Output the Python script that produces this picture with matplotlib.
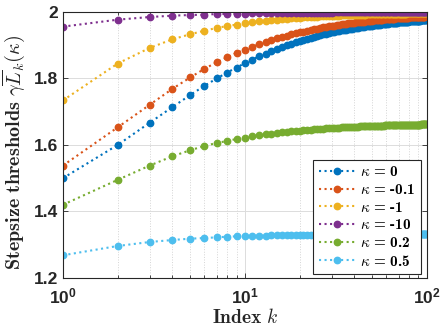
import matplotlib
matplotlib.use('Agg')
import matplotlib.pyplot as plt
from matplotlib.font_manager import FontProperties
from matplotlib.ticker import LogLocator, NullFormatter

# Data: stepsize thresholds per index k for each kappa
k = list(range(1, 101))
kappas = ['0', '-0.1', '-1', '-10', '0.2', '0.5']

thr_k0 = [
    1.500, 1.600, 1.667, 1.714, 1.750, 1.778, 1.800, 1.818, 1.833, 1.846,
    1.857, 1.867, 1.875, 1.882, 1.889, 1.895, 1.900, 1.905, 1.909, 1.913,
    1.917, 1.920, 1.923, 1.926, 1.929, 1.931, 1.933, 1.935, 1.937, 1.939,
    1.940, 1.942, 1.943, 1.945, 1.946, 1.947, 1.948, 1.949, 1.950, 1.951,
    1.952, 1.953, 1.954, 1.955, 1.956, 1.957, 1.957, 1.958, 1.959, 1.959,
    1.960, 1.961, 1.961, 1.962, 1.962, 1.963, 1.963, 1.964, 1.964, 1.965,
    1.965, 1.966, 1.966, 1.967, 1.967, 1.967, 1.968, 1.968, 1.968, 1.969,
    1.969, 1.969, 1.970, 1.970, 1.970, 1.971, 1.971, 1.971, 1.971, 1.972,
    1.972, 1.972, 1.972, 1.973, 1.973, 1.973, 1.973, 1.974, 1.974, 1.974,
    1.974, 1.974, 1.975, 1.975, 1.975, 1.975, 1.975, 1.976, 1.976, 1.976]

thr_km01 = [
    1.538, 1.653, 1.721, 1.769, 1.803, 1.829, 1.849, 1.864, 1.877, 1.887,
    1.896, 1.903, 1.910, 1.916, 1.921, 1.925, 1.929, 1.933, 1.936, 1.939,
    1.941, 1.944, 1.946, 1.948, 1.950, 1.952, 1.954, 1.955, 1.957, 1.958,
    1.959, 1.960, 1.962, 1.963, 1.964, 1.965, 1.966, 1.966, 1.967, 1.968,
    1.969, 1.969, 1.970, 1.971, 1.971, 1.972, 1.973, 1.973, 1.974, 1.974,
    1.975, 1.975, 1.976, 1.976, 1.976, 1.977, 1.977, 1.978, 1.978, 1.978,
    1.979, 1.979, 1.979, 1.980, 1.980, 1.980, 1.981, 1.981, 1.981, 1.981,
    1.982, 1.982, 1.982, 1.982, 1.983, 1.983, 1.983, 1.983, 1.983, 1.984,
    1.984, 1.984, 1.984, 1.984, 1.985, 1.985, 1.985, 1.985, 1.985, 1.985,
    1.986, 1.986, 1.986, 1.986, 1.986, 1.986, 1.986, 1.987, 1.987, 1.987]

thr_km1 = [
    1.734, 1.845, 1.892, 1.918, 1.933, 1.944, 1.952, 1.958, 1.962, 1.966,
    1.969, 1.972, 1.974, 1.976, 1.977, 1.979, 1.980, 1.981, 1.982, 1.983,
    1.984, 1.984, 1.985, 1.986, 1.986, 1.987, 1.987, 1.988, 1.988, 1.988,
    1.989, 1.989, 1.989, 1.990, 1.990, 1.990, 1.991, 1.991, 1.991, 1.991,
    1.992, 1.992, 1.992, 1.992, 1.992, 1.992, 1.993, 1.993, 1.993, 1.993,
    1.993, 1.993, 1.993, 1.994, 1.994, 1.994, 1.994, 1.994, 1.994, 1.994,
    1.994, 1.994, 1.994, 1.994, 1.995, 1.995, 1.995, 1.995, 1.995, 1.995,
    1.995, 1.995, 1.995, 1.995, 1.995, 1.995, 1.995, 1.996, 1.996, 1.996,
    1.996, 1.996, 1.996, 1.996, 1.996, 1.996, 1.996, 1.996, 1.996, 1.996,
    1.996, 1.996, 1.996, 1.996, 1.996, 1.996, 1.996, 1.996, 1.996, 1.996]

thr_km10 = [
    1.956, 1.977, 1.985, 1.989, 1.991, 1.992, 1.994, 1.994, 1.995, 1.995,
    1.996, 1.996, 1.997, 1.997, 1.997, 1.997, 1.997, 1.998, 1.998, 1.998,
    1.998, 1.998, 1.998, 1.998, 1.998, 1.998, 1.998, 1.998, 1.998, 1.998,
    1.999, 1.999, 1.999, 1.999, 1.999, 1.999, 1.999, 1.999, 1.999, 1.999,
    1.999, 1.999, 1.999, 1.999, 1.999, 1.999, 1.999, 1.999, 1.999, 1.999,
    1.999, 1.999, 1.999, 1.999, 1.999, 1.999, 1.999, 1.999, 1.999, 1.999,
    1.999, 1.999, 1.999, 1.999, 1.999, 1.999, 1.999, 1.999, 1.999, 1.999,
    1.999, 1.999, 1.999, 1.999, 1.999, 1.999, 1.999, 1.999, 1.999, 1.999,
    1.999, 1.999, 1.999, 1.999, 1.999, 1.999, 1.999, 1.999, 1.999, 1.999,
    2.000, 2.000, 2.000, 2.000, 2.000, 2.000, 2.000, 2.000, 2.000, 2.000]

thr_k02 = [
    1.420, 1.495, 1.538, 1.566, 1.584, 1.597, 1.606, 1.612, 1.618, 1.622,
    1.626, 1.629, 1.632, 1.634, 1.636, 1.638, 1.640, 1.641, 1.642, 1.643,
    1.644, 1.645, 1.646, 1.647, 1.648, 1.649, 1.649, 1.650, 1.650, 1.651,
    1.651, 1.652, 1.652, 1.653, 1.653, 1.653, 1.654, 1.654, 1.654, 1.655,
    1.655, 1.655, 1.656, 1.656, 1.656, 1.656, 1.656, 1.657, 1.657, 1.657,
    1.657, 1.657, 1.658, 1.658, 1.658, 1.658, 1.658, 1.658, 1.659, 1.659,
    1.659, 1.659, 1.659, 1.659, 1.659, 1.659, 1.660, 1.660, 1.660, 1.660,
    1.660, 1.660, 1.660, 1.660, 1.660, 1.660, 1.660, 1.661, 1.661, 1.661,
    1.661, 1.661, 1.661, 1.661, 1.661, 1.661, 1.661, 1.661, 1.661, 1.661,
    1.661, 1.661, 1.662, 1.662, 1.662, 1.662, 1.662, 1.662, 1.662, 1.662]

thr_k05 = [
    1.268, 1.296, 1.308, 1.314, 1.318, 1.320, 1.322, 1.324, 1.325, 1.325,
    1.326, 1.327, 1.327, 1.328, 1.328, 1.328, 1.329, 1.329, 1.329, 1.329,
    1.330, 1.330, 1.330, 1.330, 1.330, 1.330, 1.330, 1.330, 1.331, 1.331,
    1.331, 1.331, 1.331, 1.331, 1.331, 1.331, 1.331, 1.331, 1.331, 1.331,
    1.331, 1.331, 1.331, 1.331, 1.332, 1.332, 1.332, 1.332, 1.332, 1.332,
    1.332, 1.332, 1.332, 1.332, 1.332, 1.332, 1.332, 1.332, 1.332, 1.332,
    1.332, 1.332, 1.332, 1.332, 1.332, 1.332, 1.332, 1.332, 1.332, 1.332,
    1.332, 1.332, 1.332, 1.332, 1.332, 1.332, 1.332, 1.332, 1.332, 1.332,
    1.332, 1.332, 1.332, 1.332, 1.332, 1.332, 1.332, 1.332, 1.332, 1.332,
    1.332, 1.332, 1.332, 1.332, 1.332, 1.332, 1.332, 1.332, 1.332, 1.332]

series = [thr_k0, thr_km01, thr_km1, thr_km10, thr_k02, thr_k05]
colors = ['#0072BD', '#D95319', '#EDB120', '#7E2F8E', '#77AC30', '#4DBEEE']

yticks = [1.2, 1.4, 1.6, 1.8, 2.0]
ytick_labels = ['1.2', '1.4', '1.6', '1.8', '2']
xticks = [1, 10, 100]
xtick_labels = [r'$\mathbf{10^{0}}$', r'$\mathbf{10^{1}}$', r'$\mathbf{10^{2}}$']

# Fonts: sans bold for ticks, computer modern for labels/legend
plt.rcParams['mathtext.fontset'] = 'custom'
plt.rcParams['mathtext.bf'] = 'Liberation Sans:bold'
plt.rcParams['mathtext.rm'] = 'Liberation Sans'
plt.rcParams['font.family'] = 'Liberation Sans'
dark = '#262626'

fig = plt.figure(figsize=(4.4, 3.34), dpi=100)
ax = fig.add_axes([0.143, 0.168, 0.827, 0.796])

for ys, c, kap in zip(series, colors, kappas):
    # kappa in math italic, "= value" in bold CM text (hyphen, not minus)
    ax.semilogx(k, ys, linestyle=':', linewidth=1.5, marker='o', markersize=4.6,
                color=c, label=r'$\kappa\ $=$\ $' + kap)

ax.set_xlim(1, 100)
ax.set_ylim(1.2, 2.0)

ax.set_xticks(xticks)
ax.set_xticklabels(xtick_labels)
ax.xaxis.set_minor_locator(LogLocator(base=10, subs=range(2, 10)))
ax.xaxis.set_minor_formatter(NullFormatter())
ax.set_yticks(yticks)
ax.set_yticklabels(ytick_labels, fontweight='bold')

ax.tick_params(which='both', direction='in', top=True, right=True, color=dark,
               labelcolor=dark, labelsize=12.5)
ax.tick_params(which='major', length=3.5, width=0.6)
ax.tick_params(which='minor', length=2, width=0.6)
ax.tick_params(axis='x', pad=6)
for s in ax.spines.values():
    s.set_color(dark)
    s.set_linewidth(0.8)

# Grid lines
ax.grid(True, which='major', color='#dcdcdc', linestyle='-', linewidth=0.7)
ax.grid(True, which='minor', axis='x', color='#d4d4d4', linestyle=':', linewidth=0.7)
ax.set_axisbelow(True)

ax.set_xlabel(r'$\mathbf{Index}\ k$', fontsize=14, color=dark, labelpad=1,
              math_fontfamily='cm')
ax.set_ylabel(r'$\mathbf{Stepsize\ thresholds}\ \gamma\overline{L}_k(\kappa)$',
              fontsize=14.5, color=dark, math_fontfamily='cm')
ax.yaxis.set_label_coords(-0.097, 0.47)

leg = ax.legend(loc='lower right', bbox_to_anchor=(0.983, 0.015), borderaxespad=0,
                prop=FontProperties(family='cmb10', size=11, math_fontfamily='cm'),
                fancybox=False, framealpha=1, edgecolor=dark, handlelength=2.4,
                handletextpad=0.3, labelspacing=0.24, borderpad=0.35)
leg.get_frame().set_linewidth(0.8)

fig.savefig('out.png', dpi=100)
